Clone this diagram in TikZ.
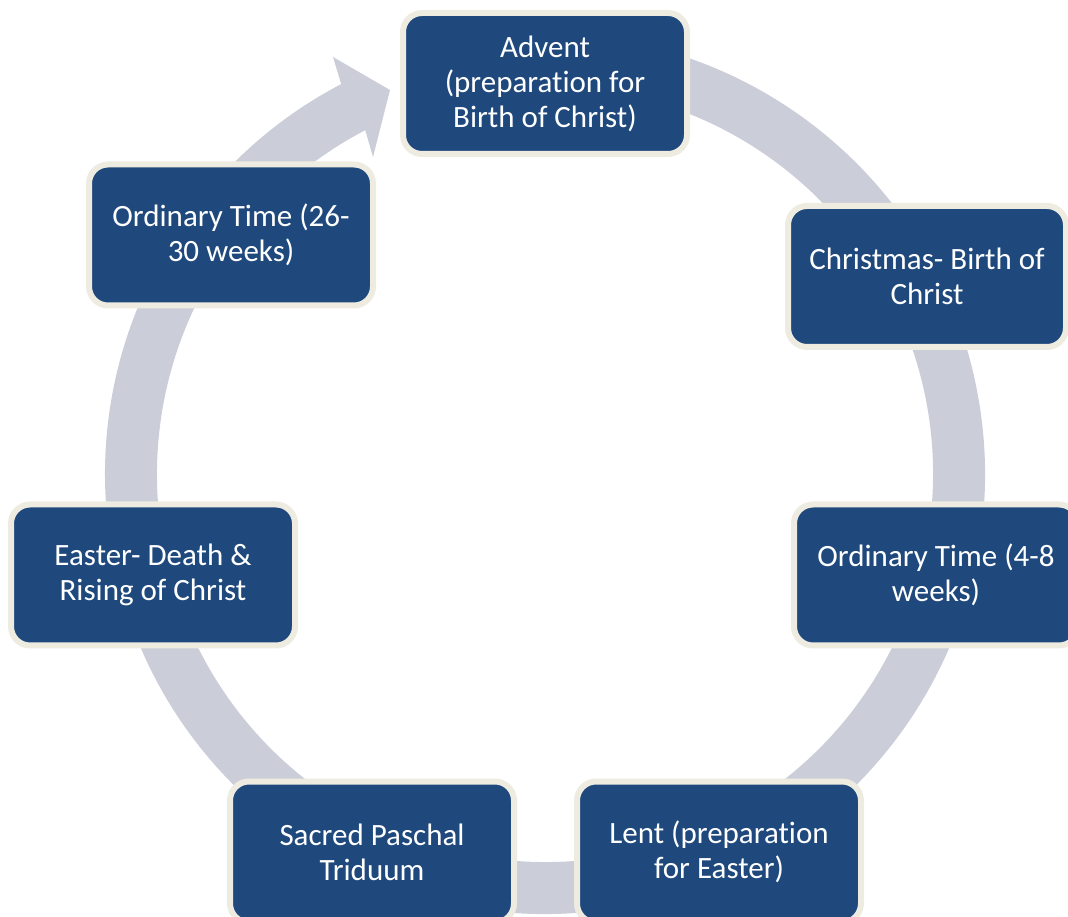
\documentclass[tikz,border=0pt]{standalone}
\usepackage{fontspec}
\setmainfont[Ligatures=NoCommon]{Carlito}
\usetikzlibrary{calc}
\definecolor{boxblue}{HTML}{1F497D}
\definecolor{boxrim}{HTML}{EEECE1}
\definecolor{ringgray}{HTML}{CBCED9}
\begin{document}
\begin{tikzpicture}[x=1pt,y=1pt,
  season/.style={draw=boxrim, line width=6pt, fill=boxblue, rounded corners=19pt,
    minimum width=284pt, minimum height=141pt, inner sep=0pt, text=white,
    align=center, font=\fontsize{31}{35}\selectfont},
  ringstyle/.style={fill=ringgray}]
\clip (0,0) rectangle (1068,916);
\coordinate (c) at (545,442);
\coordinate (tip) at (390,826);
\coordinate (ow) at (333,859);
\coordinate (iw) at (373,759);
\fill[ringstyle] (c) ++(100:440) arc[start angle=100, end angle=-242.4, radius=440]
  -- (ow) -- (tip) -- (iw) -- ($(c)+(117.6:388)$)
  arc[start angle=-242.4, end angle=100, radius=388] -- cycle;
\node[season] (advent) at (545,832.5) {Advent\\(preparation for\\Birth of Christ)};
\node[season, minimum width=278pt] (christmas) at (927,639.5) {Christmas- Birth of\\Christ};
\node[season] (ot1) at (936,341) {Ordinary Time (4-8\\weeks)};
\node[season] (lent) at (719,64) {Lent (preparation\\for Easter)};
\node[season] (triduum) at (372,64) {Sacred Paschal\\Triduum};
\node[season] (easter) at (153,341) {Easter- Death \&\\Rising of Christ};
\node[season] (ot2) at (231,681) {Ordinary Time (26-\\30 weeks)};
\end{tikzpicture}
\end{document}
